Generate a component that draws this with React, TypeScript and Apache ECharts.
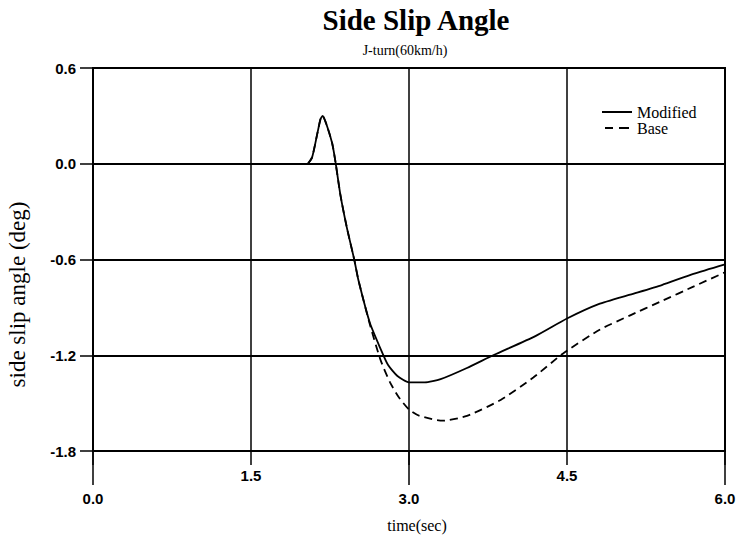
import React, { useEffect, useRef } from "react";
import * as echarts from "echarts";

const modifiedT = [2.04, 2.08, 2.13, 2.16, 2.18, 2.22, 2.27, 2.3, 2.35, 2.41, 2.48, 2.52, 2.63, 2.73, 2.8, 2.89, 3.0, 3.15, 3.3, 3.55, 3.8, 4.2, 4.5, 4.8, 5.1, 5.4, 5.7, 6.0];
const modifiedV = [0, 0.04, 0.19, 0.28, 0.3, 0.24, 0.13, 0.02, -0.2, -0.4, -0.6, -0.73, -1.0, -1.16, -1.26, -1.33, -1.37, -1.37, -1.35, -1.28, -1.2, -1.08, -0.97, -0.88, -0.82, -0.76, -0.69, -0.63];

const baseT = [2.04, 2.08, 2.13, 2.16, 2.18, 2.22, 2.27, 2.3, 2.35, 2.41, 2.48, 2.52, 2.63, 2.73, 2.82, 2.9, 3.0, 3.1, 3.32, 3.55, 3.87, 4.18, 4.46, 4.81, 5.1, 5.4, 5.7, 6.0];
const baseV = [0, 0.04, 0.19, 0.28, 0.3, 0.24, 0.13, 0.02, -0.2, -0.4, -0.6, -0.73, -1.01, -1.23, -1.37, -1.46, -1.54, -1.58, -1.61, -1.58, -1.48, -1.34, -1.19, -1.04, -0.95, -0.86, -0.77, -0.68];

const xMin = 0;
const xMax = 6;
const yTicks = [-1.8, -1.2, -0.6, 0.0, 0.6];
const staggeredLabels = [1.5, 4.5];

const serif = "'Liberation Serif', 'DejaVu Serif', serif";
const narrow = "'Liberation Sans Narrow', 'Liberation Sans', Arial, sans-serif";

export default function App() {
  const ref = useRef<HTMLDivElement>(null);
  useEffect(() => {
    if (!ref.current) return;
    const chart = echarts.init(ref.current, null, { renderer: "svg" });
    const labelStyle = { color: "#000", fontFamily: narrow, fontWeight: "bold" as const, fontSize: 15 };
    chart.setOption({
      animation: false,
      backgroundColor: "#fff",
      title: [
        {
          text: "Side Slip Angle",
          left: 416,
          textAlign: "center",
          top: 5,
          padding: 0,
          textStyle: { fontFamily: serif, fontWeight: "bold", fontSize: 29, color: "#000" },
        },
        {
          text: "J-turn(60km/h)",
          left: 405,
          textAlign: "center",
          top: 43,
          padding: 0,
          textStyle: { fontFamily: serif, fontWeight: "normal", fontSize: 14, color: "#000" },
        },
      ],
      legend: {
        orient: "vertical",
        left: 602,
        top: 104,
        padding: 0,
        itemWidth: 30,
        itemHeight: 2,
        itemGap: 0,
        textStyle: { fontFamily: serif, fontSize: 16, color: "#000" },
        data: [
          { name: "Modified", icon: "path://M0,0 L30,0 L30,2 L0,2 Z" },
          { name: "Base", icon: "path://M2,0 L10,0 L10,2 L2,2 Z M16,0 L26,0 L26,2 L16,2 Z" },
        ],
        itemStyle: { color: "#000" },
      },
      grid: {
        left: 93,
        right: 12,
        top: 68,
        bottom: 85,
        containLabel: false,
        outerBoundsMode: "none",
        show: true,
        borderColor: "#000",
        borderWidth: 2,
        backgroundColor: "transparent",
      },
      xAxis: [
        {
          type: "value",
          min: xMin,
          max: xMax,
          interval: 3,
          position: "bottom",
          name: "time(sec)",
          nameLocation: "middle",
          nameGap: 66,
          nameTextStyle: { fontFamily: serif, fontSize: 16, color: "#000", padding: [0, 0, 0, 16] },
          axisLine: { show: true, onZero: false, lineStyle: { color: "#000", width: 2 } },
          axisTick: { show: true, inside: false, length: 34, lineStyle: { color: "#000", width: 1.5 } },
          axisLabel: { ...labelStyle, margin: 40, formatter: (v: number) => v.toFixed(1) },
          splitLine: { show: false },
        },
        {
          type: "value",
          min: xMin,
          max: xMax,
          interval: 1.5,
          position: "bottom",
          axisLine: { show: false, onZero: false },
          axisTick: { show: true, inside: false, length: 14, lineStyle: { color: "#000", width: 1.5 } },
          axisLabel: {
            ...labelStyle,
            margin: 17,
            formatter: (v: number) => (staggeredLabels.some((s) => Math.abs(v - s) < 1e-6) ? v.toFixed(1) : ""),
          },
          splitLine: { show: true, lineStyle: { color: "#000", width: 1.5 } },
        },
      ],
      yAxis: {
        type: "value",
        min: yTicks[0],
        max: yTicks[yTicks.length - 1],
        interval: 0.6,
        name: "side slip angle (deg)",
        nameLocation: "middle",
        nameGap: 64,
        nameTextStyle: { fontFamily: serif, fontSize: 23, color: "#000", padding: [0, 70, 0, 0] },
        axisLine: { show: true, onZero: false, lineStyle: { color: "#000", width: 1.5 } },
        axisTick: { show: true, length: 13, lineStyle: { color: "#000", width: 1.5 } },
        axisLabel: { ...labelStyle, margin: 17, formatter: (v: number) => v.toFixed(1) },
        splitLine: { show: true, lineStyle: { color: "#000", width: 2 } },
      },
      series: [
        {
          name: "Modified",
          type: "line",
          xAxisIndex: 0,
          data: modifiedT.map((t, i) => [t, modifiedV[i]]),
          symbol: "none",
          smooth: 0.2,
          lineStyle: { color: "#000", width: 1.8, type: "solid" },
          itemStyle: { color: "#000" },
          z: 5,
        },
        {
          name: "Base",
          type: "line",
          xAxisIndex: 0,
          data: baseT.map((t, i) => [t, baseV[i]]),
          symbol: "none",
          smooth: 0.2,
          lineStyle: { color: "#000", width: 1.8, type: [8, 5] },
          itemStyle: { color: "#000" },
          z: 4,
        },
      ],
    });
    return () => chart.dispose();
  }, []);
  return <div ref={ref} style={{ position: "fixed", left: 0, top: 0, width: 737, height: 536 }} />;
}
